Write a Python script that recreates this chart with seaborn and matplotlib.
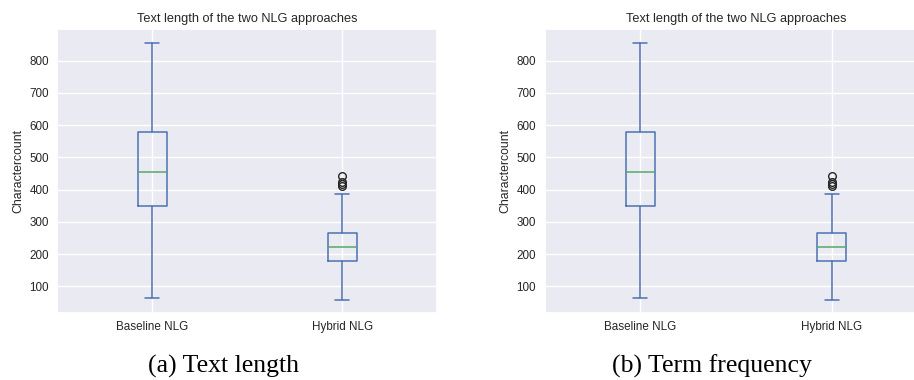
import matplotlib
matplotlib.use("Agg")
import matplotlib.pyplot as plt
import seaborn as sns

# summary stats (same data in both panels)
groups = ["Baseline NLG", "Hybrid NLG"]
whisker_low = [64, 58]
q1 = [349, 177]
median = [454, 222]
q3 = [579, 265]
whisker_high = [856, 387]
fliers = [[], [441, 423, 417, 412]]

captions = ["(a) Text length", "(b) Term frequency"]
title = "Text length of the two NLG approaches"
ylabel = "Charactercount"

sns.set_theme(style="darkgrid")
plt.rcParams["font.family"] = ["Liberation Sans", "DejaVu Sans"]

BLUE = "#4C72B0"
GREEN = "#55A868"


def draw_box(ax):
    stats = []
    for i, g in enumerate(groups):
        stats.append({
            "label": g, "whislo": whisker_low[i], "q1": q1[i], "med": median[i],
            "q3": q3[i], "whishi": whisker_high[i], "fliers": fliers[i],
        })
    ax.bxp(stats, widths=0.15,
           boxprops=dict(color=BLUE, linewidth=1.1),
           whiskerprops=dict(color=BLUE, linewidth=1.1),
           capprops=dict(color=BLUE, linewidth=1.1),
           medianprops=dict(color=GREEN, linewidth=1.1),
           flierprops=dict(marker="o", markerfacecolor="none", markeredgecolor="#262626",
                           markersize=5.5, markeredgewidth=1.0))
    ax.set_ylim(18, 897)
    ax.set_xlim(0.5, 2.5)
    ax.set_title(title, fontsize=9.2, color="#262626", pad=5)
    ax.set_ylabel(ylabel, fontsize=8.8, color="#262626", labelpad=4)
    ax.tick_params(axis="both", labelsize=8.4, colors="#262626", length=0, pad=6)
    ax.grid(True, color="white", linewidth=1)


fig = plt.figure(figsize=(9.14, 3.8), dpi=100)
ax1 = fig.add_axes([57.3 / 914, 67.3 / 380, 380 / 914, 283.4 / 380])
ax2 = fig.add_axes([544.5 / 914, 67.3 / 380, 383 / 914, 283.4 / 380])
for ax in (ax1, ax2):
    draw_box(ax)

fig.text(224 / 914, 1 - 366 / 380, captions[0], ha="center", va="center",
         fontsize=18.5, family=["Liberation Serif", "DejaVu Serif"], color="black")
fig.text(712 / 914, 1 - 366 / 380, captions[1], ha="center", va="center",
         fontsize=18.5, family=["Liberation Serif", "DejaVu Serif"], color="black")

fig.savefig("out.png", dpi=100)
